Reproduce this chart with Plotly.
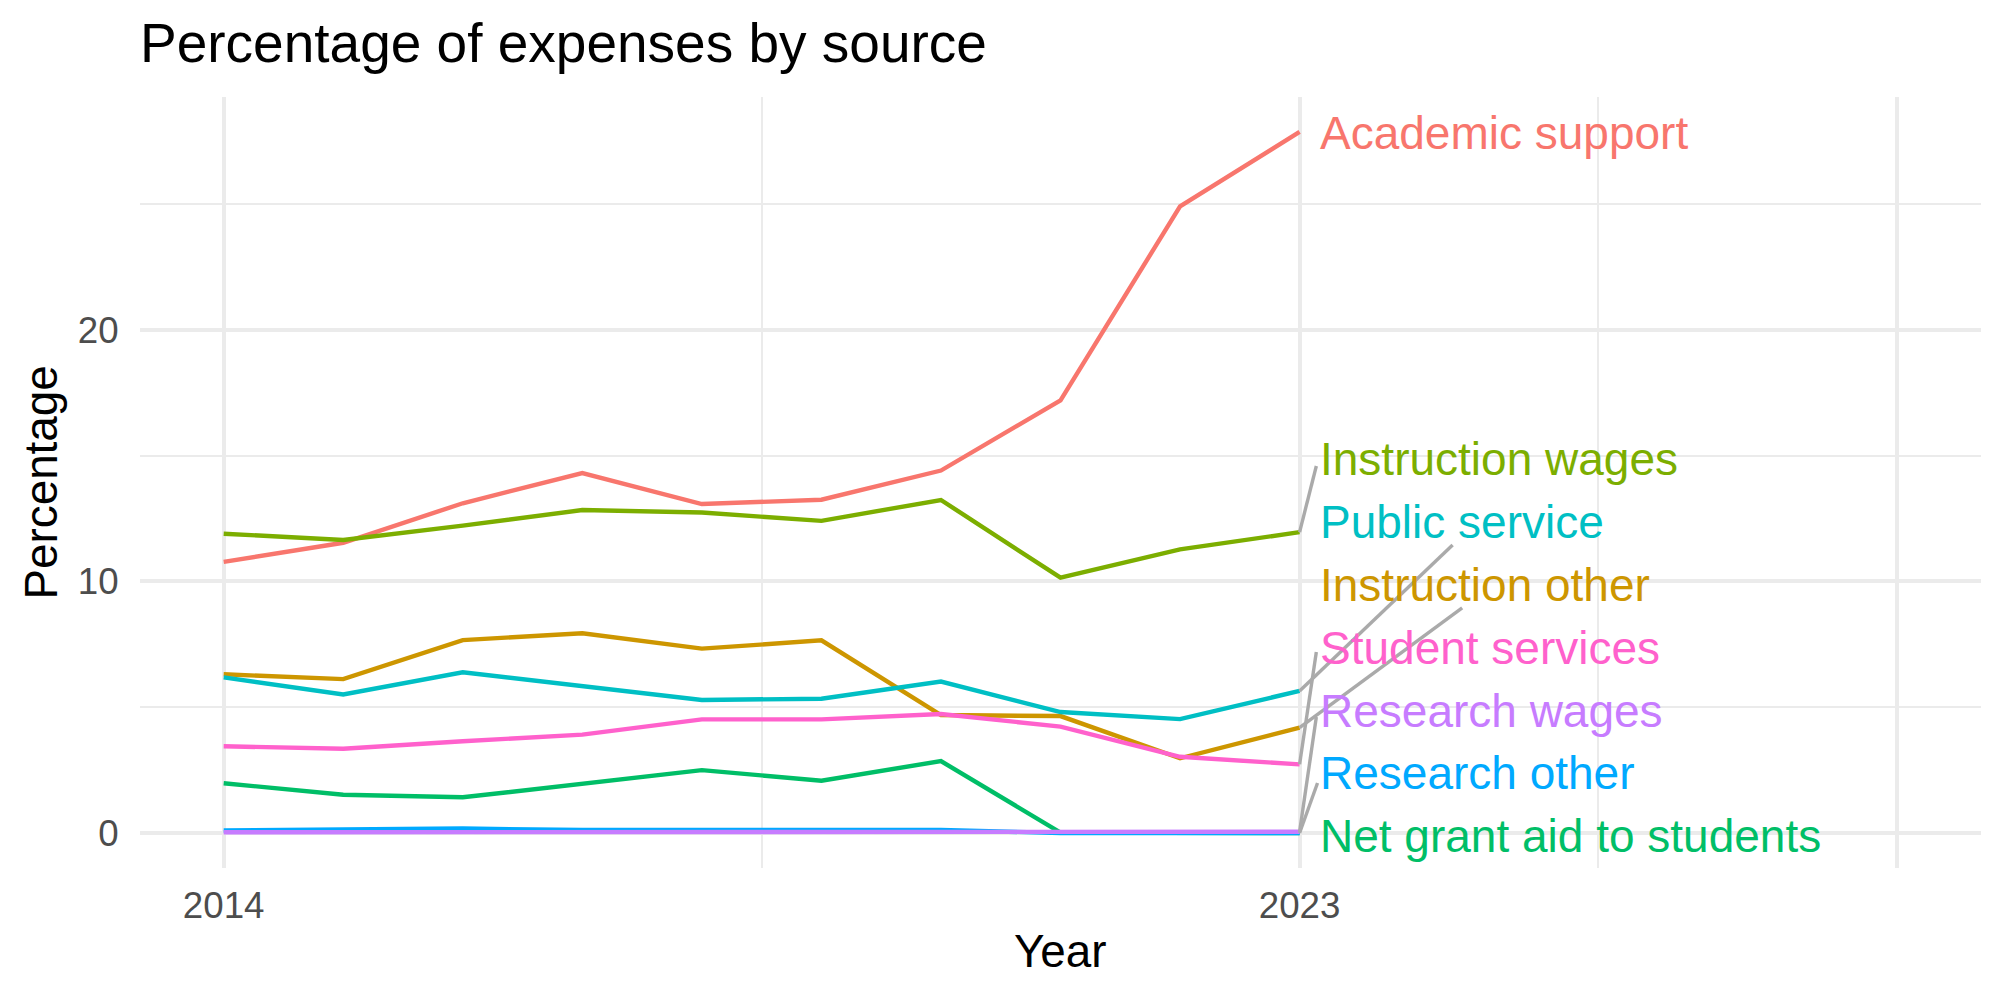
import plotly.graph_objects as go

# ---- data ----
years = [2014, 2015, 2016, 2017, 2018, 2019, 2020, 2021, 2022, 2023]

academic_support = [10.78, 11.54, 13.11, 14.31, 13.08, 13.25, 14.41, 17.20, 24.91, 27.87]
instruction_other = [6.31, 6.12, 7.67, 7.94, 7.33, 7.66, 4.69, 4.65, 2.97, 4.19]
instruction_wages = [11.90, 11.65, 12.22, 12.84, 12.74, 12.41, 13.24, 10.15, 11.28, 11.96]
net_grant_aid = [1.98, 1.52, 1.42, 1.98, 2.50, 2.08, 2.86, 0.02, 0.0, 0.0]
public_service = [6.19, 5.51, 6.39, 5.84, 5.29, 5.34, 6.02, 4.81, 4.53, 5.65]
research_other = [0.10, 0.12, 0.18, 0.12, 0.10, 0.12, 0.12, 0.0, 0.0, 0.0]
research_wages = [0.03, 0.03, 0.03, 0.03, 0.03, 0.03, 0.03, 0.05, 0.05, 0.05]
student_services = [3.45, 3.35, 3.65, 3.91, 4.52, 4.52, 4.73, 4.23, 3.03, 2.73]

series_names = ["Academic support", "Instruction other", "Instruction wages",
                "Net grant aid to students", "Public service", "Research other",
                "Research wages", "Student services"]
series_values = [academic_support, instruction_other, instruction_wages, net_grant_aid,
                 public_service, research_other, research_wages, student_services]
series_colors = ["#F8766D", "#CD9600", "#7CAE00", "#00BE67",
                 "#00BFC4", "#00A9FF", "#C77CFF", "#FF61CC"]

# repelled label positions (y, data units) and leader-line end points
label_y = [27.83, 9.86, 14.87, -0.12, 12.38, 2.37, 4.87, 7.36]
leader_end_x = [None, 2024.36, 2023.14, None, 2024.28, 2023.15, 2023.14, 2023.14]
leader_end_y = [None, 8.95, 14.59, None, 11.45, 1.99, 4.61, 7.20]

x_tickvals = [2014, 2023, 2028]
x_ticktext = ["2014", "2023", ""]
x_minor = [2018.5, 2025.5]
y_tickvals = [0, 10, 20]
y_minor = [5, 15, 25]

FONT = "Liberation Sans, Arial, Helvetica, sans-serif"

fig = go.Figure()

for name, vals, col in zip(series_names, series_values, series_colors):
    fig.add_trace(go.Scatter(x=years, y=vals, mode="lines", name=name,
                             line=dict(color=col, width=4.4), showlegend=False,
                             hoverinfo="skip"))

# leader segments
for vals, ex, ey in zip(series_values, leader_end_x, leader_end_y):
    if ex is None:
        continue
    fig.add_trace(go.Scatter(x=[years[-1], ex], y=[vals[-1], ey], mode="lines",
                             line=dict(color="#AAAAAA", width=3.4),
                             showlegend=False, hoverinfo="skip"))

annotations = []
for name, col, ly in zip(series_names, series_colors, label_y):
    annotations.append(dict(x=years[-1], y=ly, xref="x", yref="y", text=name,
                            showarrow=False, xanchor="left", yanchor="middle",
                            xshift=18, font=dict(family=FONT, size=46, color=col)))

# title
annotations.append(dict(x=0, y=1, xref="paper", yref="paper",
                        text="Percentage of expenses by source", showarrow=False,
                        xanchor="left", yanchor="bottom", yshift=21, xshift=-2,
                        font=dict(family=FONT, size=55, color="black")))
# axis titles
annotations.append(dict(x=0.5, y=0, xref="paper", yref="paper", text="Year",
                        showarrow=False, xanchor="center", yanchor="top", yshift=-56,
                        font=dict(family=FONT, size=45.8, color="black")))
annotations.append(dict(x=0, y=0.5, xref="paper", yref="paper", text="Percentage",
                        showarrow=False, xanchor="center", yanchor="middle",
                        xshift=-99, textangle=-90,
                        font=dict(family=FONT, size=45.8, color="black")))

fig.update_layout(
    width=2000, height=1000,
    margin=dict(l=140, r=19, t=97, b=132, autoexpand=False),
    paper_bgcolor="white", plot_bgcolor="white",
    annotations=annotations,
    showlegend=False,
)

fig.update_xaxes(
    range=[2013.3, 2028.7],
    tickmode="array", tickvals=x_tickvals, ticktext=x_ticktext,
    showgrid=True, gridcolor="#EBEBEB", gridwidth=4.4,
    minor=dict(tickmode="array", tickvals=x_minor, showgrid=True,
               gridcolor="#EBEBEB", gridwidth=2.2, ticks=""),
    zeroline=False, showline=False,
    ticks="outside", ticklen=5, tickcolor="rgba(0,0,0,0)",
    tickfont=dict(family=FONT, size=36.7, color="#4D4D4D"),
    automargin=False,
)
fig.update_yaxes(
    range=[-1.39, 29.26],
    tickmode="array", tickvals=y_tickvals,
    showgrid=True, gridcolor="#EBEBEB", gridwidth=4.4,
    minor=dict(tickmode="array", tickvals=y_minor, showgrid=True,
               gridcolor="#EBEBEB", gridwidth=2.2, ticks=""),
    zeroline=False, showline=False,
    ticks="outside", ticklen=13, tickcolor="rgba(0,0,0,0)",
    tickfont=dict(family=FONT, size=36.7, color="#4D4D4D"),
    automargin=False,
)

fig.write_html("out.html")
